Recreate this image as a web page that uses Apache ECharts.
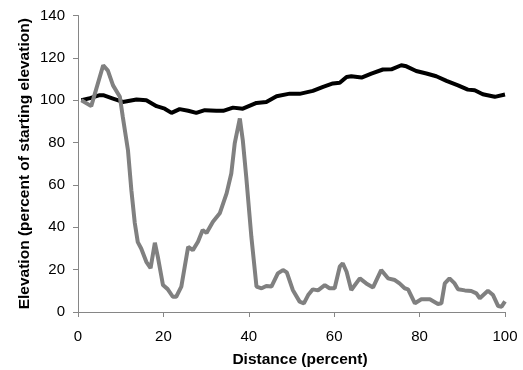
<!DOCTYPE html>
<html lang="en">
<head>
    <meta charset="UTF-8" />
    <title>Elevation profile</title>
    <script src="https://cdn.jsdelivr.net/npm/echarts@6/dist/echarts.min.js"></script>
</head>
<body style="margin: 0">
    <div id="chart" style="width: 523px; height: 370px"></div>
    <script>
        // gray line (elevation drops a lot)
        var grayDist = [0.8, 3.1, 5.9, 7, 8.2, 9.8, 10.5, 11.7, 12.5, 13.3, 14, 14.8, 16, 17, 18, 18.7, 19.9, 21, 22.2, 23,
            24.2, 25, 25.8, 26.9, 28.1, 29.2, 30.1, 31.6, 33.2, 34.8, 35.9, 36.7, 37.9, 38.6, 39.4, 40.6, 41.8, 43, 44.1, 45.3,
            46.8, 48, 48.9, 50.3, 51.9, 52.9, 53.9, 55, 56.2, 57.8, 58.9, 60.1, 61.3, 62, 62.9, 64, 66, 67.5, 69.1, 71,
            72.6, 74.2, 75.3, 76.5, 77.3, 78.9, 80.4, 82.4, 84.3, 85.1, 85.9, 87, 88.2, 89, 90.6, 92.1, 93.3, 94.1, 96, 97.2,
            98.4, 99.2, 100];
        var grayElev = [100, 97.2, 116.5, 114, 107, 101.6, 92, 76.4, 57.5, 42, 33, 30, 23.7, 20.7, 32.7, 26, 12.7, 10.8, 7.2, 7.2,
            12, 21.4, 30.8, 29.2, 33.2, 38.7, 37.3, 42.6, 46.6, 56, 65.4, 79.6, 91.4, 81, 63.8, 35.5, 12, 11.2, 12.3, 12,
            18.2, 19.8, 18.7, 10.4, 4.9, 4.1, 8, 10.7, 10.2, 12.7, 11.2, 11.2, 21.4, 23, 19, 10.4, 15.9, 13.5, 11.6, 19.8,
            15.9, 15.1, 13.5, 11.2, 10.7, 4.1, 6, 6, 3.8, 4.1, 13.5, 15.9, 13.5, 10.7, 10.2, 9.9, 8.8, 6.5, 10, 8,
            2.8, 2.5, 5];

        // black line (stays near start elevation)
        var blackDist = [0.8, 2.8, 5.1, 5.9, 8.2, 10.5, 13.7, 16, 18.4, 20.3, 21.9, 23.8, 25.8, 27.7, 29.7, 32.4, 34, 36.3, 38.6, 41.8,
            44.1, 46.5, 49.6, 51.9, 55, 57.4, 59.7, 61.3, 62.9, 64, 66.4, 68.7, 71.4, 73.4, 75.7, 76.9, 79.2, 81.6, 83.9, 86.3,
            89, 91.3, 92.9, 94.8, 97.6, 100];
        var blackElev = [100, 101, 102.4, 102.4, 100.8, 99.2, 100.3, 100, 97.2, 96, 94, 95.8, 95, 94, 95.3, 95, 95, 96.5, 96, 98.7,
            99.2, 101.9, 103.1, 103, 104.4, 106.3, 107.9, 108.2, 111, 111.3, 110.7, 112.6, 114.5, 114.6, 116.5, 116, 113.8, 112.6, 111.3, 109.1,
            107, 105, 104.7, 102.8, 101.6, 102.7];

        var xTicks = [0, 20, 40, 60, 80, 100];
        var yTicks = [0, 20, 40, 60, 80, 100, 120, 140];

        function pairs(xs, ys) {
            return xs.map(function (x, i) { return [x, ys[i]]; });
        }

        var myChart = echarts.init(document.getElementById("chart"));
        var axisGray = "#868686";
        var labelFont = { color: "#000", fontFamily: "Liberation Sans, Arial", fontSize: 15 };
        var titleFont = { color: "#000", fontFamily: "Liberation Sans, Arial", fontSize: 15.5, fontWeight: "bold" };

        var option = {
            animation: false,
            grid: { left: 78, right: 18, top: 15.5, bottom: 58, outerBoundsMode: "none" },
            xAxis: {
                type: "value",
                min: xTicks[0],
                max: xTicks[xTicks.length - 1],
                interval: 20,
                name: "Distance (percent)",
                nameLocation: "middle",
                nameGap: 40,
                nameMoveOverlap: false,
                nameTextStyle: Object.assign({ padding: [0, 0, 0, 17] }, titleFont),
                axisLine: { lineStyle: { color: axisGray, width: 1 } },
                axisTick: { show: true, length: 5, lineStyle: { color: axisGray } },
                axisLabel: Object.assign({ margin: 17 }, labelFont),
                splitLine: { show: false }
            },
            yAxis: {
                type: "value",
                min: yTicks[0],
                max: yTicks[yTicks.length - 1],
                interval: 20,
                name: "Elevation (percent of starting elevation)",
                nameLocation: "middle",
                nameGap: 45,
                nameMoveOverlap: false,
                nameTextStyle: titleFont,
                axisLine: { show: true, lineStyle: { color: axisGray, width: 1 } },
                axisTick: { show: true, length: 5, lineStyle: { color: axisGray } },
                axisLabel: Object.assign({ margin: 13 }, labelFont),
                splitLine: { show: false }
            },
            series: [
                {
                    type: "line",
                    data: pairs(blackDist, blackElev),
                    showSymbol: false,
                    lineStyle: { color: "#000", width: 4 },
                    z: 2
                },
                {
                    type: "line",
                    data: pairs(grayDist, grayElev),
                    showSymbol: false,
                    lineStyle: { color: "#808080", width: 4 },
                    z: 3
                }
            ]
        };

        myChart.setOption(option);
    </script>
</body>
</html>
